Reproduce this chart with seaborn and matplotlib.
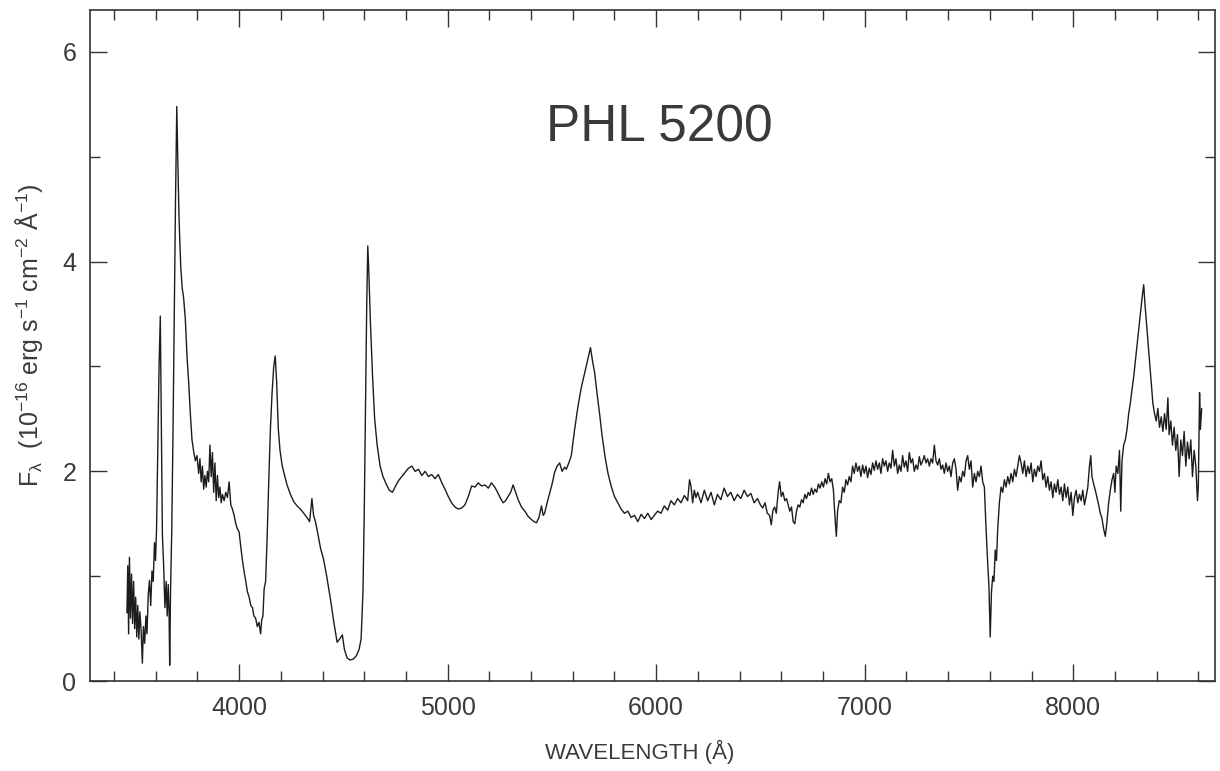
import numpy as np
import pandas as pd
import matplotlib
matplotlib.use('Agg')
import matplotlib.pyplot as plt
from matplotlib.ticker import MultipleLocator
import seaborn as sns

# Spectrum of PHL 5200
wavelength = [
    3462, 3466, 3470, 3474, 3479, 3484, 3489, 3494, 3499, 3504, 3509, 3514, 3519, 3524, 3530, 3536,
    3541, 3547, 3553, 3558, 3564, 3570, 3576, 3582, 3588, 3594, 3599, 3604, 3610, 3616, 3622, 3627,
    3632, 3638, 3644, 3650, 3655, 3660, 3664, 3667, 3671, 3677, 3683, 3689, 3695, 3701, 3706, 3712,
    3720, 3727, 3734, 3742, 3750, 3758, 3766, 3774, 3782, 3790, 3798, 3806, 3812, 3818, 3824, 3830,
    3836, 3842, 3848, 3854, 3860, 3866, 3872, 3878, 3884, 3890, 3896, 3902, 3908, 3914, 3920, 3928,
    3936, 3944, 3952, 3960, 3968, 3976, 3984, 3992, 4000, 4008, 4016, 4024, 4032, 4040, 4048, 4056,
    4064, 4071, 4079, 4087, 4095, 4103, 4108, 4114, 4120, 4127, 4134, 4142, 4150, 4158, 4166, 4173,
    4180, 4188, 4196, 4206, 4218, 4230, 4246, 4262, 4278, 4294, 4310, 4325, 4338, 4349, 4357, 4366,
    4378, 4390, 4405, 4420, 4438, 4455, 4470, 4482, 4495, 4505, 4518, 4532, 4548, 4562, 4575, 4585,
    4594, 4600, 4606, 4612, 4617, 4622, 4630, 4640, 4650, 4662, 4676, 4690, 4705, 4720, 4735, 4750,
    4764, 4780, 4796, 4812, 4828, 4844, 4860, 4876, 4892, 4908, 4923, 4940, 4955, 4970, 4987, 5003,
    5019, 5035, 5051, 5067, 5083, 5099, 5115, 5131, 5147, 5163, 5179, 5195, 5210, 5226, 5242, 5254,
    5266, 5278, 5290, 5302, 5314, 5326, 5338, 5354, 5370, 5386, 5402, 5414, 5426, 5438, 5450, 5458,
    5465, 5477, 5489, 5501, 5513, 5525, 5537, 5549, 5561, 5569, 5581, 5593, 5609, 5625, 5641, 5657,
    5670, 5685, 5695, 5705, 5716, 5728, 5740, 5754, 5768, 5784, 5800, 5816, 5832, 5848, 5864, 5880,
    5896, 5912, 5928, 5944, 5960, 5976, 5991, 6007, 6023, 6039, 6055, 6071, 6087, 6103, 6119, 6135,
    6151, 6160, 6167, 6175, 6183, 6191, 6199, 6215, 6231, 6247, 6263, 6279, 6294, 6310, 6326, 6342,
    6358, 6374, 6390, 6406, 6422, 6438, 6454, 6470, 6486, 6500, 6511, 6522, 6533, 6544, 6552, 6560,
    6568, 6576, 6585, 6592, 6600, 6608, 6617, 6625, 6633, 6641, 6649, 6657, 6665, 6673, 6681, 6689,
    6697, 6705, 6713, 6721, 6729, 6737, 6745, 6753, 6761, 6770, 6778, 6786, 6794, 6802, 6810, 6818,
    6826, 6834, 6842, 6850, 6858, 6864, 6870, 6878, 6886, 6894, 6902, 6910, 6918, 6926, 6934, 6942,
    6950, 6958, 6966, 6974, 6982, 6990, 6998, 7006, 7014, 7022, 7030, 7038, 7046, 7054, 7062, 7070,
    7078, 7086, 7094, 7102, 7110, 7118, 7126, 7134, 7142, 7150, 7158, 7166, 7174, 7182, 7190, 7198,
    7206, 7214, 7222, 7230, 7238, 7246, 7254, 7262, 7270, 7278, 7286, 7294, 7302, 7310, 7318, 7326,
    7334, 7342, 7350, 7358, 7366, 7374, 7382, 7390, 7398, 7406, 7414, 7422, 7430, 7438, 7446, 7454,
    7462, 7470, 7478, 7486, 7494, 7502, 7510, 7518, 7526, 7534, 7542, 7550, 7558, 7566, 7574, 7580,
    7588, 7596, 7602, 7608, 7614, 7620, 7626, 7632, 7638, 7646, 7654, 7662, 7670, 7678, 7686, 7694,
    7702, 7710, 7718, 7726, 7734, 7742, 7750, 7758, 7766, 7774, 7782, 7790, 7798, 7806, 7814, 7822,
    7830, 7838, 7846, 7854, 7862, 7870, 7878, 7886, 7894, 7902, 7910, 7918, 7926, 7934, 7942, 7950,
    7958, 7966, 7974, 7982, 7990, 7998, 8006, 8014, 8022, 8030, 8038, 8046, 8054, 8062, 8070, 8078,
    8084, 8090, 8098, 8106, 8114, 8122, 8130, 8138, 8146, 8154, 8162, 8170, 8178, 8186, 8194, 8200,
    8206, 8214, 8222, 8228, 8234, 8242, 8250, 8258, 8266, 8274, 8282, 8290, 8298, 8306, 8314, 8322,
    8330, 8338, 8344, 8350, 8358, 8366, 8374, 8382, 8390, 8398, 8406, 8414, 8422, 8430, 8438, 8446,
    8454, 8460, 8468, 8476, 8484, 8492, 8500, 8508, 8516, 8524, 8532, 8540, 8548, 8556, 8564, 8572,
    8580, 8588, 8596, 8600, 8606, 8610, 8616,
]

flux = [
    0.65, 1.10, 0.45, 1.18, 0.60, 1.02, 0.55, 0.95, 0.50, 0.80, 0.42, 0.72, 0.40, 0.66, 0.48, 0.17,
    0.52, 0.36, 0.62, 0.45, 0.82, 0.96, 0.72, 1.05, 0.95, 1.32, 1.15, 1.45, 2.20, 3.00, 3.48, 2.40,
    1.40, 1.10, 0.70, 0.95, 0.62, 0.92, 0.65, 0.15, 0.85, 1.45, 2.40, 3.50, 4.60, 5.48, 4.95, 4.40,
    3.95, 3.75, 3.65, 3.45, 3.10, 2.85, 2.55, 2.30, 2.19, 2.10, 2.15, 1.98, 2.12, 1.90, 2.05, 1.83,
    1.96, 1.85, 2.00, 1.90, 2.25, 1.95, 2.18, 1.80, 2.08, 1.72, 1.96, 1.75, 1.85, 1.70, 1.78, 1.72,
    1.80, 1.75, 1.90, 1.68, 1.64, 1.58, 1.50, 1.45, 1.42, 1.28, 1.15, 1.04, 0.95, 0.85, 0.80, 0.72,
    0.70, 0.62, 0.60, 0.52, 0.56, 0.45, 0.58, 0.62, 0.88, 0.95, 1.35, 1.90, 2.40, 2.75, 3.00, 3.10,
    2.85, 2.40, 2.20, 2.06, 1.96, 1.87, 1.78, 1.71, 1.67, 1.64, 1.60, 1.56, 1.52, 1.74, 1.58, 1.52,
    1.40, 1.27, 1.16, 1.00, 0.78, 0.55, 0.37, 0.40, 0.44, 0.30, 0.22, 0.20, 0.21, 0.24, 0.30, 0.40,
    0.86, 1.60, 2.60, 3.60, 4.15, 3.90, 3.40, 2.90, 2.50, 2.25, 2.05, 1.95, 1.88, 1.82, 1.80, 1.86,
    1.91, 1.95, 1.99, 2.03, 2.05, 2.00, 2.02, 1.96, 2.00, 1.95, 1.97, 1.93, 1.97, 1.90, 1.83, 1.76,
    1.70, 1.66, 1.64, 1.65, 1.68, 1.76, 1.86, 1.85, 1.89, 1.86, 1.87, 1.84, 1.89, 1.85, 1.79, 1.74,
    1.70, 1.72, 1.76, 1.80, 1.87, 1.80, 1.73, 1.66, 1.62, 1.57, 1.54, 1.52, 1.51, 1.56, 1.67, 1.58,
    1.60, 1.70, 1.79, 1.88, 1.99, 2.05, 2.08, 2.00, 2.04, 2.02, 2.08, 2.15, 2.40, 2.62, 2.80, 2.94,
    3.05, 3.18, 3.05, 2.94, 2.75, 2.56, 2.35, 2.15, 1.99, 1.86, 1.76, 1.70, 1.64, 1.60, 1.62, 1.56,
    1.58, 1.52, 1.59, 1.55, 1.60, 1.54, 1.58, 1.62, 1.60, 1.67, 1.63, 1.72, 1.68, 1.74, 1.70, 1.77,
    1.72, 1.92, 1.86, 1.70, 1.82, 1.75, 1.80, 1.70, 1.82, 1.72, 1.80, 1.68, 1.78, 1.73, 1.84, 1.76,
    1.80, 1.72, 1.78, 1.74, 1.82, 1.76, 1.79, 1.70, 1.74, 1.68, 1.65, 1.70, 1.60, 1.58, 1.49, 1.63,
    1.66, 1.60, 1.80, 1.90, 1.76, 1.80, 1.72, 1.74, 1.68, 1.62, 1.66, 1.52, 1.50, 1.62, 1.68, 1.66,
    1.73, 1.70, 1.78, 1.74, 1.80, 1.77, 1.84, 1.78, 1.83, 1.80, 1.88, 1.84, 1.90, 1.85, 1.93, 1.88,
    1.98, 1.90, 1.93, 1.82, 1.55, 1.38, 1.62, 1.72, 1.70, 1.85, 1.80, 1.92, 1.87, 1.95, 1.90, 2.05,
    1.98, 2.08, 2.00, 2.05, 1.95, 2.06, 1.98, 2.05, 1.94, 2.03, 1.97, 2.08, 2.01, 2.10, 2.02, 2.08,
    1.98, 2.12, 2.05, 2.10, 2.00, 2.08, 2.03, 2.20, 2.05, 2.12, 1.98, 2.06, 2.00, 2.15, 2.04, 2.10,
    2.00, 2.18, 2.08, 2.12, 2.00, 2.06, 2.02, 2.14, 2.06, 2.10, 2.15, 2.08, 2.12, 2.05, 2.12, 2.08,
    2.25, 2.10, 2.06, 2.12, 2.02, 2.06, 1.98, 2.08, 2.00, 2.05, 1.95, 2.08, 2.12, 2.02, 1.82, 1.95,
    1.90, 2.00, 1.95, 2.10, 2.15, 2.02, 2.10, 1.85, 1.98, 1.90, 2.00, 1.95, 2.05, 1.90, 1.85, 1.55,
    1.20, 0.90, 0.42, 0.85, 1.00, 0.95, 1.25, 1.15, 1.45, 1.70, 1.85, 1.80, 1.92, 1.85, 1.95, 1.88,
    1.98, 1.90, 2.02, 1.95, 2.05, 2.15, 2.08, 1.98, 2.10, 1.95, 2.05, 1.98, 2.08, 1.90, 2.02, 1.95,
    2.05, 2.00, 2.10, 1.92, 1.98, 1.85, 1.95, 1.82, 1.90, 1.75, 1.88, 1.80, 1.92, 1.78, 1.85, 1.72,
    1.88, 1.75, 1.85, 1.68, 1.80, 1.58, 1.75, 1.82, 1.70, 1.78, 1.72, 1.82, 1.68, 1.76, 1.85, 2.05,
    2.15, 1.95, 1.88, 1.82, 1.75, 1.68, 1.60, 1.55, 1.45, 1.38, 1.52, 1.70, 1.82, 1.92, 1.98, 1.80,
    2.05, 1.98, 2.20, 1.62, 2.10, 2.25, 2.30, 2.40, 2.55, 2.65, 2.78, 2.90, 3.05, 3.20, 3.35, 3.50,
    3.65, 3.78, 3.60, 3.45, 3.25, 3.05, 2.85, 2.65, 2.55, 2.48, 2.60, 2.42, 2.52, 2.38, 2.55, 2.40,
    2.70, 2.35, 2.48, 2.25, 2.42, 2.20, 2.35, 1.95, 2.30, 2.15, 2.38, 2.05, 2.28, 2.12, 2.30, 1.95,
    2.20, 2.05, 1.72, 1.85, 2.75, 2.40, 2.60,
]

x_ticks = [4000, 5000, 6000, 7000, 8000]
y_ticks = [0, 2, 4, 6]

df = pd.DataFrame({'wavelength': wavelength, 'flux': flux})

sns.set_style('ticks')
plt.rcParams['font.family'] = ['Liberation Sans', 'DejaVu Sans']
plt.rcParams['mathtext.fontset'] = 'custom'
plt.rcParams['mathtext.rm'] = 'Liberation Sans'
plt.rcParams['mathtext.it'] = 'Liberation Sans'
plt.rcParams['mathtext.default'] = 'regular'

text_color = '#3a3a3a'

fig = plt.figure(figsize=(12.2, 7.71), dpi=100)
ax = fig.add_axes([0.0738, 0.1167, 0.9221, 0.8703])

sns.lineplot(data=df, x='wavelength', y='flux', sort=False, estimator=None,
             color='#1c1c1c', linewidth=1.0, ax=ax)

ax.set_xlim(3285, 8680)
ax.set_ylim(0, 6.4)
ax.set_xticks(x_ticks)
ax.set_yticks(y_ticks)
ax.xaxis.set_minor_locator(MultipleLocator(200))
ax.yaxis.set_minor_locator(MultipleLocator(1))

ax.tick_params(which='both', direction='in', top=True, right=True,
               colors='#333333', labelcolor=text_color, labelsize=18, width=1.0)
ax.tick_params(axis='x', which='major', length=12, pad=11)
ax.tick_params(axis='y', which='major', length=12, pad=10)
ax.tick_params(which='minor', length=7)
for spine in ax.spines.values():
    spine.set_linewidth(1.2)
    spine.set_color('#333333')

ax.set_xlabel('WAVELENGTH (Å)', fontsize=16, color=text_color)
ax.xaxis.set_label_coords(0.489, -0.088)
ax.set_ylabel(r'F$_{\lambda}$  (10$^{-16}$ erg s$^{-1}$ cm$^{-2}$ Å$^{-1}$)',
              fontsize=18, color=text_color)
ax.yaxis.set_label_coords(-0.04, 0.515)

ax.text(0.506, 0.824, 'PHL 5200', transform=ax.transAxes, ha='center', va='center',
        fontsize=37, color=text_color)

plt.savefig('out.png', dpi=100)
